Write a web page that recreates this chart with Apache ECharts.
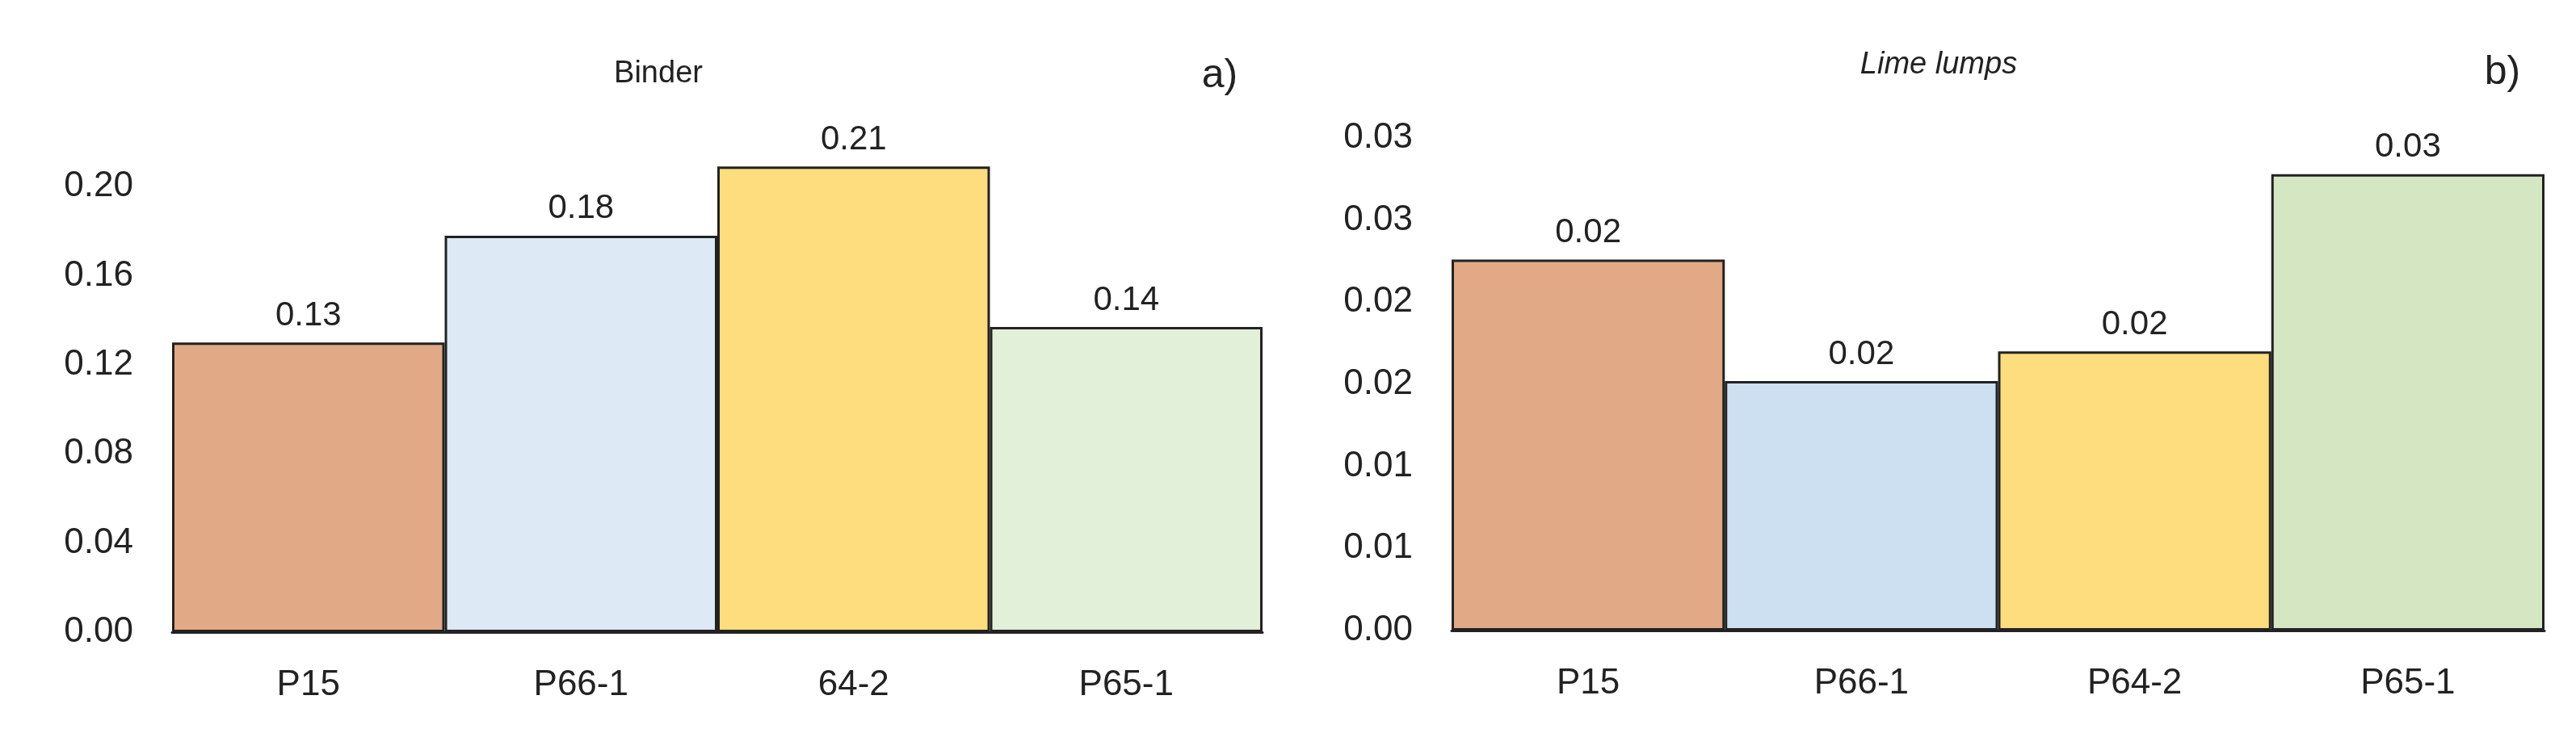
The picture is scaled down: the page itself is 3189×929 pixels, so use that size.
<!DOCTYPE html>
<html><head><meta charset="utf-8">
<script src="https://cdn.jsdelivr.net/npm/echarts@6/dist/echarts.min.js"></script>
<style>html,body{margin:0;background:#fff}#c{width:3189px;height:929px}</style>
</head><body><div id="c"></div>
<script>
const catsA = ['P15','P66-1','64-2','P65-1'];
const valsA = [0.130, 0.178, 0.209, 0.137];
const colorsA = ['#E2A986','#DDE9F5','#FEDD7E','#E2EFD9'];
const catsB = ['P15','P66-1','P64-2','P65-1'];
const valsB = [0.0226, 0.0152, 0.0170, 0.0278];
const colorsB = ['#E2A986','#CCE0F2','#FEDD7E','#D5E7C2'];
const ticksB = ['0.00','0.01','0.01','0.02','0.02','0.03','0.03'];

const font = 'Liberation Sans, Arial, sans-serif';
const chart = echarts.init(document.getElementById('c'));
function xAx(i, cats){return {gridIndex:i,type:'category',data:cats,
  axisLine:{lineStyle:{color:'#222',width:3}},axisTick:{show:false},
  axisLabel:{color:'#222',fontSize:44,fontFamily:font,margin:44}};}
function yAx(i,max,interval,fmt){return {gridIndex:i,type:'value',min:0,max:max,interval:interval,
  axisLine:{show:false},axisTick:{show:false},splitLine:{show:false},
  axisLabel:{color:'#222',fontSize:44,fontFamily:font,margin:48,showMaxLabel:i===1,formatter:fmt}};}
function ser(i,vals,colors){return {type:'bar',xAxisIndex:i,yAxisIndex:i,barCategoryGap:'0%',
  data:vals.map((v,k)=>({value:v,itemStyle:{color:colors[k]}})),
  itemStyle:{borderColor:'#222',borderWidth:3},
  label:{show:true,position:'top',distance:12,color:'#222',fontSize:42,fontFamily:font,
    formatter:p=>p.value.toFixed(2)}};}
chart.setOption({
  animation:false,
  grid:[{left:213,width:1350,top:176,bottom:929-783},
        {left:1797,width:1353,top:171,bottom:929-781}],
  xAxis:[xAx(0,catsA),xAx(1,catsB)],
  yAxis:[yAx(0,0.22,0.04,v=>v.toFixed(2)),
         yAx(1,0.03,0.005,v=>ticksB[Math.round(v/0.005)])],
  series:[ser(0,valsA,colorsA),ser(1,valsB,colorsB)],
  graphic:[
    {type:'text',style:{text:'Binder',x:815,y:92,align:'center',verticalAlign:'middle',font:'38px '+font,fill:'#222'}},
    {type:'text',style:{text:'a)',x:1510,y:94,align:'center',verticalAlign:'middle',font:'50px '+font,fill:'#222'}},
    {type:'text',style:{text:'Lime lumps',x:2400,y:80,align:'center',verticalAlign:'middle',font:'italic 38px '+font,fill:'#222'}},
    {type:'text',style:{text:'b)',x:3098,y:90,align:'center',verticalAlign:'middle',font:'50px '+font,fill:'#222'}}
  ]
});
</script></body></html>
